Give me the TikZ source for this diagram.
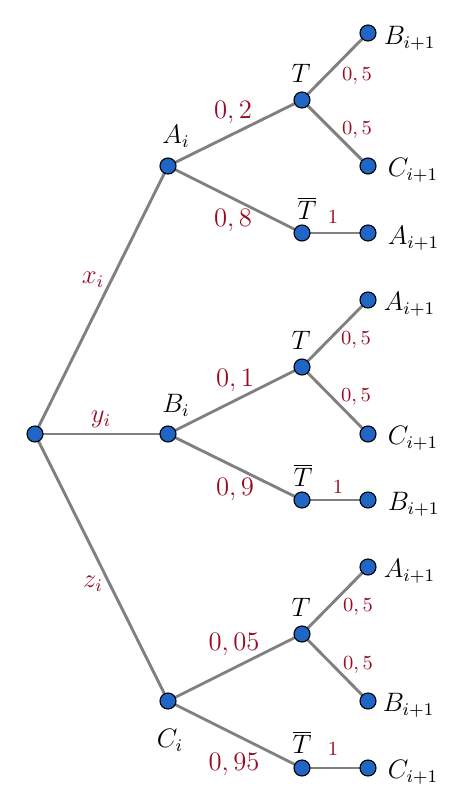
\documentclass[tikz,border=0pt]{standalone}
\begin{document}
\begin{tikzpicture}[x=0.45pt,y=-0.45pt,
  dot/.style={circle,draw=black,fill=nodeblue,inner sep=0pt,minimum size=7.2pt,line width=0.5pt},
  br/.style={draw=gray,line width=1.3pt},
  prob/.style={text=probred,font=\large},
  sprob/.style={text=probred,font=\small},
  lbl/.style={text=black,font=\large}]
\definecolor{nodeblue}{HTML}{1F66C6}
\definecolor{probred}{HTML}{960C22}
\useasboundingbox (0,0) rectangle (464,800);
% nodes positions
\coordinate (r) at (35,434);
\coordinate (A) at (168,166);
\coordinate (B) at (168,434);
\coordinate (C) at (168,701);
\coordinate (TA) at (302,100);
\coordinate (NA) at (302,233);
\coordinate (TB) at (302,367);
\coordinate (NB) at (302,500);
\coordinate (TC) at (302,634);
\coordinate (NC) at (302,768);
\coordinate (a1) at (368,33);
\coordinate (a2) at (368,166);
\coordinate (a3) at (368,233);
\coordinate (b1) at (368,300);
\coordinate (b2) at (368,434);
\coordinate (b3) at (368,500);
\coordinate (c1) at (368,567);
\coordinate (c2) at (368,701);
\coordinate (c3) at (368,768);
% branches
\draw[br] (r) -- (A);
\draw[br] (r) -- (B);
\draw[br] (r) -- (C);
\draw[br] (A) -- (TA);
\draw[br] (A) -- (NA);
\draw[br] (B) -- (TB);
\draw[br] (B) -- (NB);
\draw[br] (C) -- (TC);
\draw[br] (C) -- (NC);
\draw[br] (TA) -- (a1);
\draw[br] (TA) -- (a2);
\draw[br] (NA) -- (a3);
\draw[br] (TB) -- (b1);
\draw[br] (TB) -- (b2);
\draw[br] (NB) -- (b3);
\draw[br] (TC) -- (c1);
\draw[br] (TC) -- (c2);
\draw[br] (NC) -- (c3);
% dots
\foreach \p in {r,A,B,C,TA,NA,TB,NB,TC,NC,a1,a2,a3,b1,b2,b3,c1,c2,c3}
  \node[dot] (d\p) at (\p) {};
% node labels
\node[lbl] (lA) at (176,136) {$A_i$};
\node[lbl] (lB) at (176,405) {$B_i$};
\node[lbl] (lC) at (170,740) {$C_i$};
\node[lbl] (lTA) at (301,73) {$T$};
\node[lbl] (lNA) at (307,208) {$\overline{T}$};
\node[lbl] (lTB) at (301,340) {$T$};
\node[lbl] (lNB) at (303,475) {$\overline{T}$};
\node[lbl] (lTC) at (301,607) {$T$};
\node[lbl] (lNC) at (302,742) {$\overline{T}$};
\node[lbl,anchor=west] (la1) at (376,38) {$B_{i+1}$};
\node[lbl,anchor=west] (la2) at (380,170) {$C_{i+1}$};
\node[lbl,anchor=west] (la3) at (380,238) {$A_{i+1}$};
\node[lbl,anchor=west] (lb1) at (376,304) {$A_{i+1}$};
\node[lbl,anchor=west] (lb2) at (380,438) {$C_{i+1}$};
\node[lbl,anchor=west] (lb3) at (380,504) {$B_{i+1}$};
\node[lbl,anchor=west] (lc1) at (376,571) {$A_{i+1}$};
\node[lbl,anchor=west] (lc2) at (375,705) {$B_{i+1}$};
\node[lbl,anchor=west] (lc3) at (380,772) {$C_{i+1}$};
% edge labels
\node[prob] (px) at (93,280) {$x_i$};
\node[prob] (py) at (101,419) {$y_i$};
\node[prob] (pz) at (93,584) {$z_i$};
\node[prob] (p02) at (233,113) {$0,2$};
\node[prob] (p08) at (233,221) {$0,8$};
\node[prob] (p01) at (235,380) {$0,1$};
\node[prob] (p09) at (235,489) {$0,9$};
\node[prob] (p005) at (234,644) {$0,05$};
\node[prob] (p095) at (234,764) {$0,95$};
\node[sprob] (q1) at (357,76) {$0,5$};
\node[sprob] (q2) at (357,130) {$0,5$};
\node[sprob] (q3) at (356,340) {$0,5$};
\node[sprob] (q4) at (356,397) {$0,5$};
\node[sprob] (q5) at (358,607) {$0,5$};
\node[sprob] (q6) at (358,665) {$0,5$};
\node[sprob] (o1) at (333,217) {$1$};
\node[sprob] (o2) at (338,487) {$1$};
\node[sprob] (o3) at (333,749) {$1$};
\end{tikzpicture}
\end{document}
